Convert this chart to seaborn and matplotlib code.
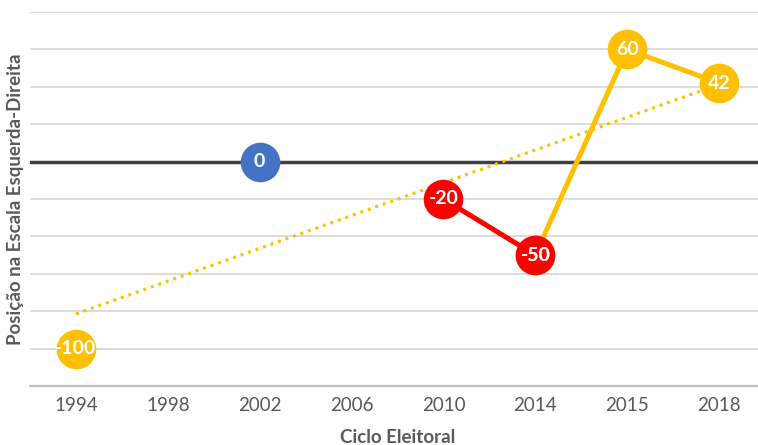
import numpy as np
import pandas as pd
import matplotlib
matplotlib.use("Agg")
import matplotlib.pyplot as plt
import seaborn as sns

# Election cycles (categorical axis, evenly spaced)
cycles = ["1994", "1998", "2002", "2006", "2010", "2014", "2015", "2018"]

# Series
orange_pts_cycles = ["1994"]
orange_pts_values = [-100]
orange_line_cycles = ["2014", "2015", "2018"]
orange_line_values = [-50, 60, 42]
red_line_cycles = ["2010", "2014"]
red_line_values = [-20, -50]
blue_pts_cycles = ["2002"]
blue_pts_values = [0]

ORANGE = "#FFC000"
RED = "#FF0000"
BLUE = "#4472C4"

idx = {c: i for i, c in enumerate(cycles)}


def frame(cyc, vals):
    return pd.DataFrame({"x": [idx[c] for c in cyc], "y": vals, "label": [str(v) for v in vals]})


sns.set_theme(style="white")
plt.rcParams["font.family"] = ["Lato", "DejaVu Sans"]

fig = plt.figure(figsize=(7.58, 4.45), dpi=100)
ax = fig.add_axes([30 / 758, 59 / 445, 735 / 758, 374 / 445])

# gridlines
for g in range(-100, 81, 20):
    if g == 0:
        continue
    ax.axhline(g, color="#D9D9D9", lw=1.3, zorder=0)
ax.axhline(0, color="#404040", lw=2.5, zorder=1)
ax.axhline(-120, color="#BFBFBF", lw=1.6, zorder=1, clip_on=False)

# trend line (linear fit over all plotted points)
all_x = [idx[c] for c in orange_pts_cycles + blue_pts_cycles + red_line_cycles + orange_line_cycles[1:]]
all_y = orange_pts_values + blue_pts_values + red_line_values + orange_line_values[1:]
slope, intercept = np.polyfit(all_x, all_y, 1)
tx = np.array([0, len(cycles) - 1])
trend = pd.DataFrame({"x": tx, "y": intercept + slope * tx})
sns.lineplot(data=trend, x="x", y="y", ax=ax, color=ORANGE, lw=2.2,
             linestyle=(0, (1, 1.6)), zorder=2)

ms = 28.5
for df, col in [(frame(orange_line_cycles, orange_line_values), ORANGE),
                (frame(orange_pts_cycles, orange_pts_values), ORANGE),
                (frame(red_line_cycles, red_line_values), RED),
                (frame(blue_pts_cycles, blue_pts_values), BLUE)]:
    sns.lineplot(data=df, x="x", y="y", ax=ax, color=col, lw=3.6, marker="o",
                 markersize=ms, markeredgewidth=0, zorder=3)
    for _, r in df.iterrows():
        ax.text(r["x"], r["y"], r["label"], color="white", fontsize=14,
                fontweight="bold", ha="center", va="center", zorder=5)

ax.set_xlim(-0.5, len(cycles) - 0.5)
ax.set_ylim(-120, 80)
ax.set_xticks(range(len(cycles)))
ax.set_xticklabels(cycles, fontsize=13.5, color="#595959")
ax.set_yticks([])
ax.tick_params(axis="x", length=0, pad=8)
for s in ax.spines.values():
    s.set_visible(False)

ax.set_xlabel("Ciclo Eleitoral", fontsize=13.5, fontweight="bold", color="#595959", labelpad=11)
ax.set_ylabel("Posição na Escala Esquerda-Direita", fontsize=13.5, fontweight="bold",
              color="#595959")
ax.yaxis.set_label_coords(-6 / 735, 0.5)

fig.savefig("out.png", dpi=100)
